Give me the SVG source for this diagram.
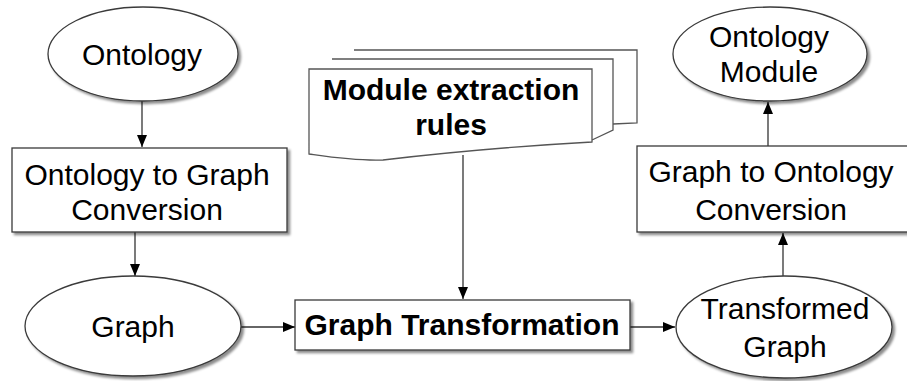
<svg xmlns="http://www.w3.org/2000/svg" width="907" height="381" viewBox="0 0 907 381">
<defs>
<filter id="sh" x="-10%" y="-10%" width="130%" height="130%">
<feDropShadow dx="2.5" dy="2.5" stdDeviation="0.8" flood-color="#000" flood-opacity="0.45"/>
</filter>
<marker id="ah" viewBox="0 0 12 10" refX="12" refY="5" markerWidth="12" markerHeight="10" markerUnits="userSpaceOnUse" orient="auto">
<path d="M0,0 L12,5 L0,10 Z" fill="#000"/>
</marker>
</defs>
<style>
.shape{fill:#fff;stroke:#3a3a3a;stroke-width:1.3;filter:url(#sh)}
.doc{fill:#fff;stroke:#555;stroke-width:1.3}
.t{font-family:"Liberation Sans",Arial,sans-serif;font-size:30px;fill:#000;text-anchor:middle}
.b{font-weight:bold}
.c{stroke:#333;stroke-width:1.3;fill:none;marker-end:url(#ah)}
</style>
<rect width="907" height="381" fill="#fff"/>
<g id="connectors">
<line class="c" x1="142" y1="101" x2="142" y2="147"/>
<line class="c" x1="135" y1="232" x2="135" y2="276"/>
<line class="c" x1="241" y1="327" x2="295" y2="327"/>
<line class="c" x1="463" y1="155" x2="463" y2="299"/>
<line class="c" x1="630" y1="327" x2="675" y2="327"/>
<line class="c" x1="783" y1="277" x2="783" y2="233"/>
<line class="c" x1="768" y1="146" x2="768" y2="102"/>
</g>
<g id="ontology">
<ellipse class="shape" cx="143" cy="54" rx="95" ry="47"/>
<text class="t" x="142" y="65">Ontology</text>
</g>
<g id="ont2graph">
<rect class="shape" x="12" y="148" width="275" height="84"/>
<text class="t" x="147" y="185">Ontology to Graph</text>
<text class="t" x="147" y="220">Conversion</text>
</g>
<g id="graph">
<ellipse class="shape" cx="133" cy="326" rx="108" ry="50"/>
<text class="t" x="133" y="337">Graph</text>
</g>
<g id="rules">
<path class="doc" d="M354,50 H637 V123 L613,124"/>
<path class="doc" d="M332,59 H613 V130 L592,140"/>
<path class="doc" d="M309,69 H592 V142 C520,146 450,152 383,160 C355,161 330,157 309,154 Z"/>
<text class="t b" x="451" y="100">Module extraction</text>
<text class="t b" x="451" y="135">rules</text>
</g>
<g id="transformation">
<rect class="shape" x="295" y="300" width="335" height="50"/>
<text class="t b" x="462" y="335">Graph Transformation</text>
</g>
<g id="transformed">
<ellipse class="shape" cx="784" cy="327" rx="108" ry="51"/>
<text class="t" x="785" y="319">Transformed</text>
<text class="t" x="785" y="357">Graph</text>
</g>
<g id="graph2ont">
<rect class="shape" x="637" y="146" width="290" height="86"/>
<text class="t" x="771" y="182">Graph to Ontology</text>
<text class="t" x="771" y="220">Conversion</text>
</g>
<g id="module">
<ellipse class="shape" cx="770" cy="54" rx="97" ry="47"/>
<text class="t" x="769" y="47">Ontology</text>
<text class="t" x="769" y="82">Module</text>
</g>
</svg>
